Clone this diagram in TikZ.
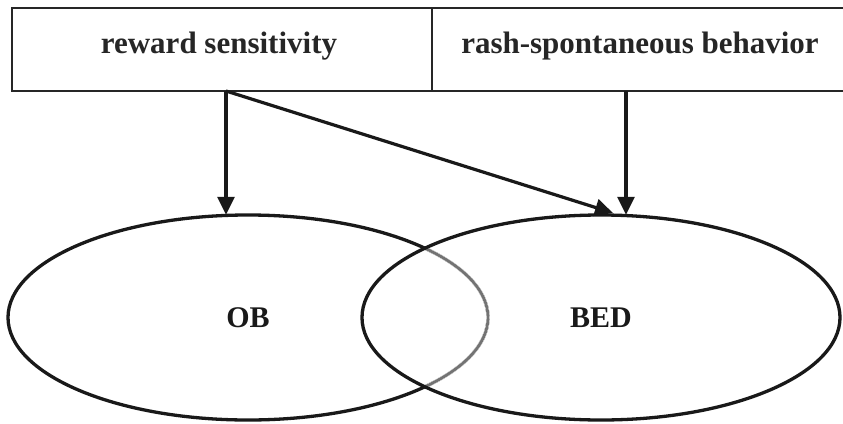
\documentclass[tikz,border=0pt]{standalone}
\usepackage{fontspec}
\setmainfont{Liberation Serif}
\usetikzlibrary{shapes.geometric,arrows.meta}
\begin{document}
\begin{tikzpicture}[x=1pt,y=-1pt,
  boxnode/.style={draw=black!85,line width=2.8pt,rectangle,inner sep=0pt,
    font=\fontsize{31}{36}\selectfont\bfseries,text=black!85},
  ovalnode/.style={ellipse,inner sep=0pt,minimum width=480pt,minimum height=205pt,
    font=\fontsize{30}{34}\selectfont\bfseries,text=black!90},
  arr/.style={line width=3.2pt,draw=black!90,-{Triangle[width=17pt,length=18pt]}}]
\useasboundingbox[fill=white] (0,0) rectangle (843,423);
% boxes
\node[boxnode,minimum width=420pt,minimum height=83pt] (rs) at (222,49.5) {};
\node[boxnode,minimum width=414pt,minimum height=83pt] (rb) at (639,49.5) {};
\node[font=\fontsize{31}{36}\selectfont\bfseries,text=black!85] (rst) at (219,46) {reward sensitivity};
\node[font=\fontsize{31}{36}\selectfont\bfseries,text=black!85] (rbt) at (640,46) {rash-spontaneous behavior};
% ellipses
\node[ovalnode] (OB) at (248,317.5) {OB};
\node[ovalnode] (BED) at (601,317.5) {BED};
\draw[line width=3.3pt,black!90] (OB.center) ellipse [x radius=240, y radius=102.5];
\begin{scope}
  \clip (BED.center) ellipse [x radius=239, y radius=102.5];
  \draw[line width=3.6pt,white] (OB.center) ellipse [x radius=240, y radius=102.5];
  \draw[line width=2.8pt,black!55] (OB.center) ellipse [x radius=240, y radius=102.5];
\end{scope}
\draw[line width=3.3pt,black!90] (BED.center) ellipse [x radius=239, y radius=102.5];
% arrows
\coordinate (s1) at (226,91);
\coordinate (s2) at (626,91);
\coordinate (t) at (613,213);
\draw[arr] (s1) -- (s1 |- OB.north);
\draw[arr] (s1) -- (t);
\draw[arr] (s2) -- (s2 |- BED.north);
\end{tikzpicture}
\end{document}
